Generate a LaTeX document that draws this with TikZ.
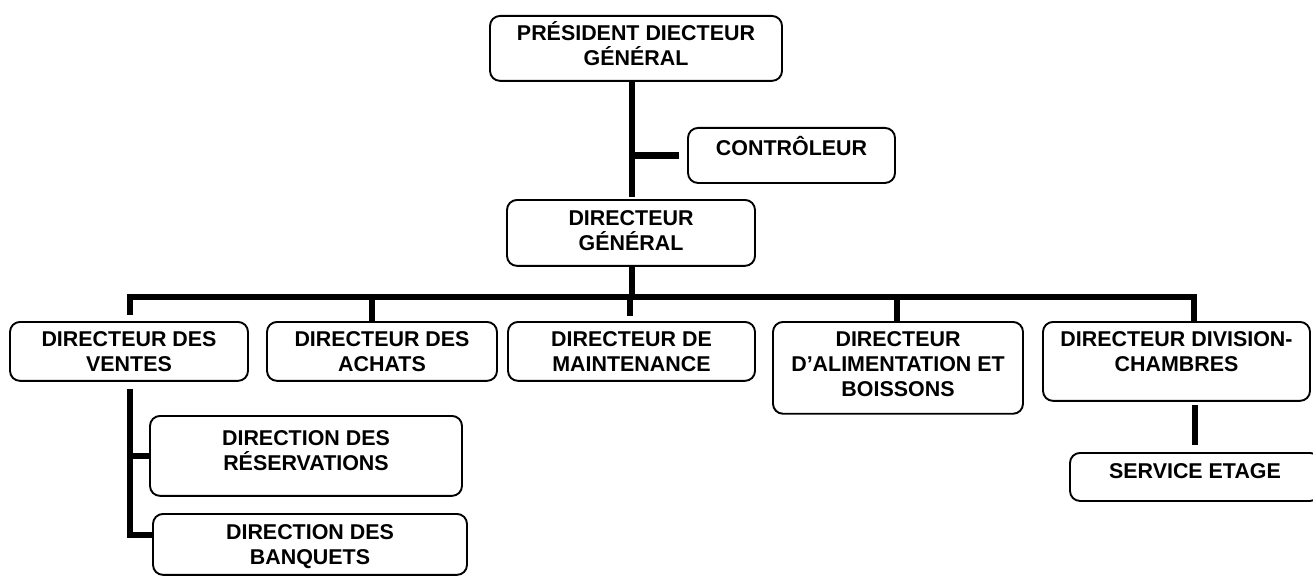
\documentclass[tikz,border=0pt]{standalone}
\usepackage{fontspec}
\setmainfont{Liberation Sans}
% box text with fixed space above the first baseline (#1) and below the last (#2)
\newcommand\boxtext[3]{\rule{0pt}{#1bp}#3\rule[-#2bp]{0pt}{#2bp}}
\begin{document}
\begin{tikzpicture}[x=1bp,y=-1bp,
  orgbox/.style={draw, line width=1.9bp, rounded corners=10bp, align=center,
    inner sep=0pt, anchor=north, font=\bfseries\fontsize{21.5}{25}\selectfont},
  link/.style={line width=6.8bp}]
\useasboundingbox (0,0) rectangle (1313,576);
\fill[white] (0,0) rectangle (1313,576);
\clip (0,0) rectangle (1313,576);

% boxes
\node[orgbox, minimum width=292bp] (pdg) at (636,15) {\boxtext{25}{15}{PRÉSIDENT DIECTEUR\\GÉNÉRAL}};
\node[orgbox, minimum width=207bp] (ctl) at (791.5,127) {\boxtext{28}{27}{CONTRÔLEUR}};
\node[orgbox, minimum width=248bp] (dg) at (631,199) {\boxtext{26}{15}{DIRECTEUR\\GÉNÉRAL}};
\node[orgbox, minimum width=238bp] (ventes) at (129,321) {\boxtext{25}{9}{DIRECTEUR DES\\VENTES}};
\node[orgbox, minimum width=230bp] (achats) at (382,321) {\boxtext{25}{9}{DIRECTEUR DES\\ACHATS}};
\node[orgbox, minimum width=247bp] (maint) at (631.5,321) {\boxtext{25}{9}{DIRECTEUR DE\\MAINTENANCE}};
\node[orgbox, minimum width=250bp] (alim) at (898,321) {\boxtext{25}{17}{DIRECTEUR\\D'ALIMENTATION ET\\BOISSONS}};
\node[orgbox, minimum width=267bp] (div) at (1176.5,321) {\boxtext{25}{29}{DIRECTEUR DIVISION-\\CHAMBRES}};
\node[orgbox, minimum width=312bp] (resa) at (306,415) {\boxtext{30}{25}{DIRECTION DES\\RÉSERVATIONS}};
\node[orgbox, minimum width=314bp] (banq) at (310,513) {\boxtext{26}{10}{DIRECTION DES\\BANQUETS}};
\node[orgbox, minimum width=250bp] (serv) at (1195,452) {\boxtext{26}{22}{SERVICE ETAGE}};

% x positions of the vertical links, y of the horizontal bar
\coordinate (tx) at (632,0);
\coordinate (bar) at (0,297);
\coordinate (dv) at (130,0);
\coordinate (da) at (372,0);
\coordinate (dm) at (630,0);
\coordinate (dl) at (897,0);
\coordinate (dd) at (1194,0);
\coordinate (vend) at (130,535);
\coordinate (sx) at (1195,0);

% links
\draw[link] (pdg.south -| tx) -- ([yshift=2bp]dg.north -| tx);
\draw[link] (tx |- ctl.west) -- ([xshift=-8bp]ctl.west);
\draw[link] (dg.south -| tx) -- (tx |- bar);
\draw[link] ([yshift=6bp]ventes.north -| dv) -- (dv |- bar) -- (dd |- bar) -- (dd |- div.north);
\draw[link] (da |- bar) -- (da |- achats.north);
\draw[link] (dm |- bar) -- ([yshift=5bp]dm |- maint.north);
\draw[link] (dl |- bar) -- (dl |- alim.north);
\draw[link] ([yshift=-7bp]ventes.south -| dv) -- (vend) -- (vend -| banq.west);
\draw[link] (dv |- resa.west) -- (resa.west);
\draw[link] ([yshift=-3bp]div.south -| sx) -- ([yshift=7bp]serv.north -| sx);
\end{tikzpicture}
\end{document}
